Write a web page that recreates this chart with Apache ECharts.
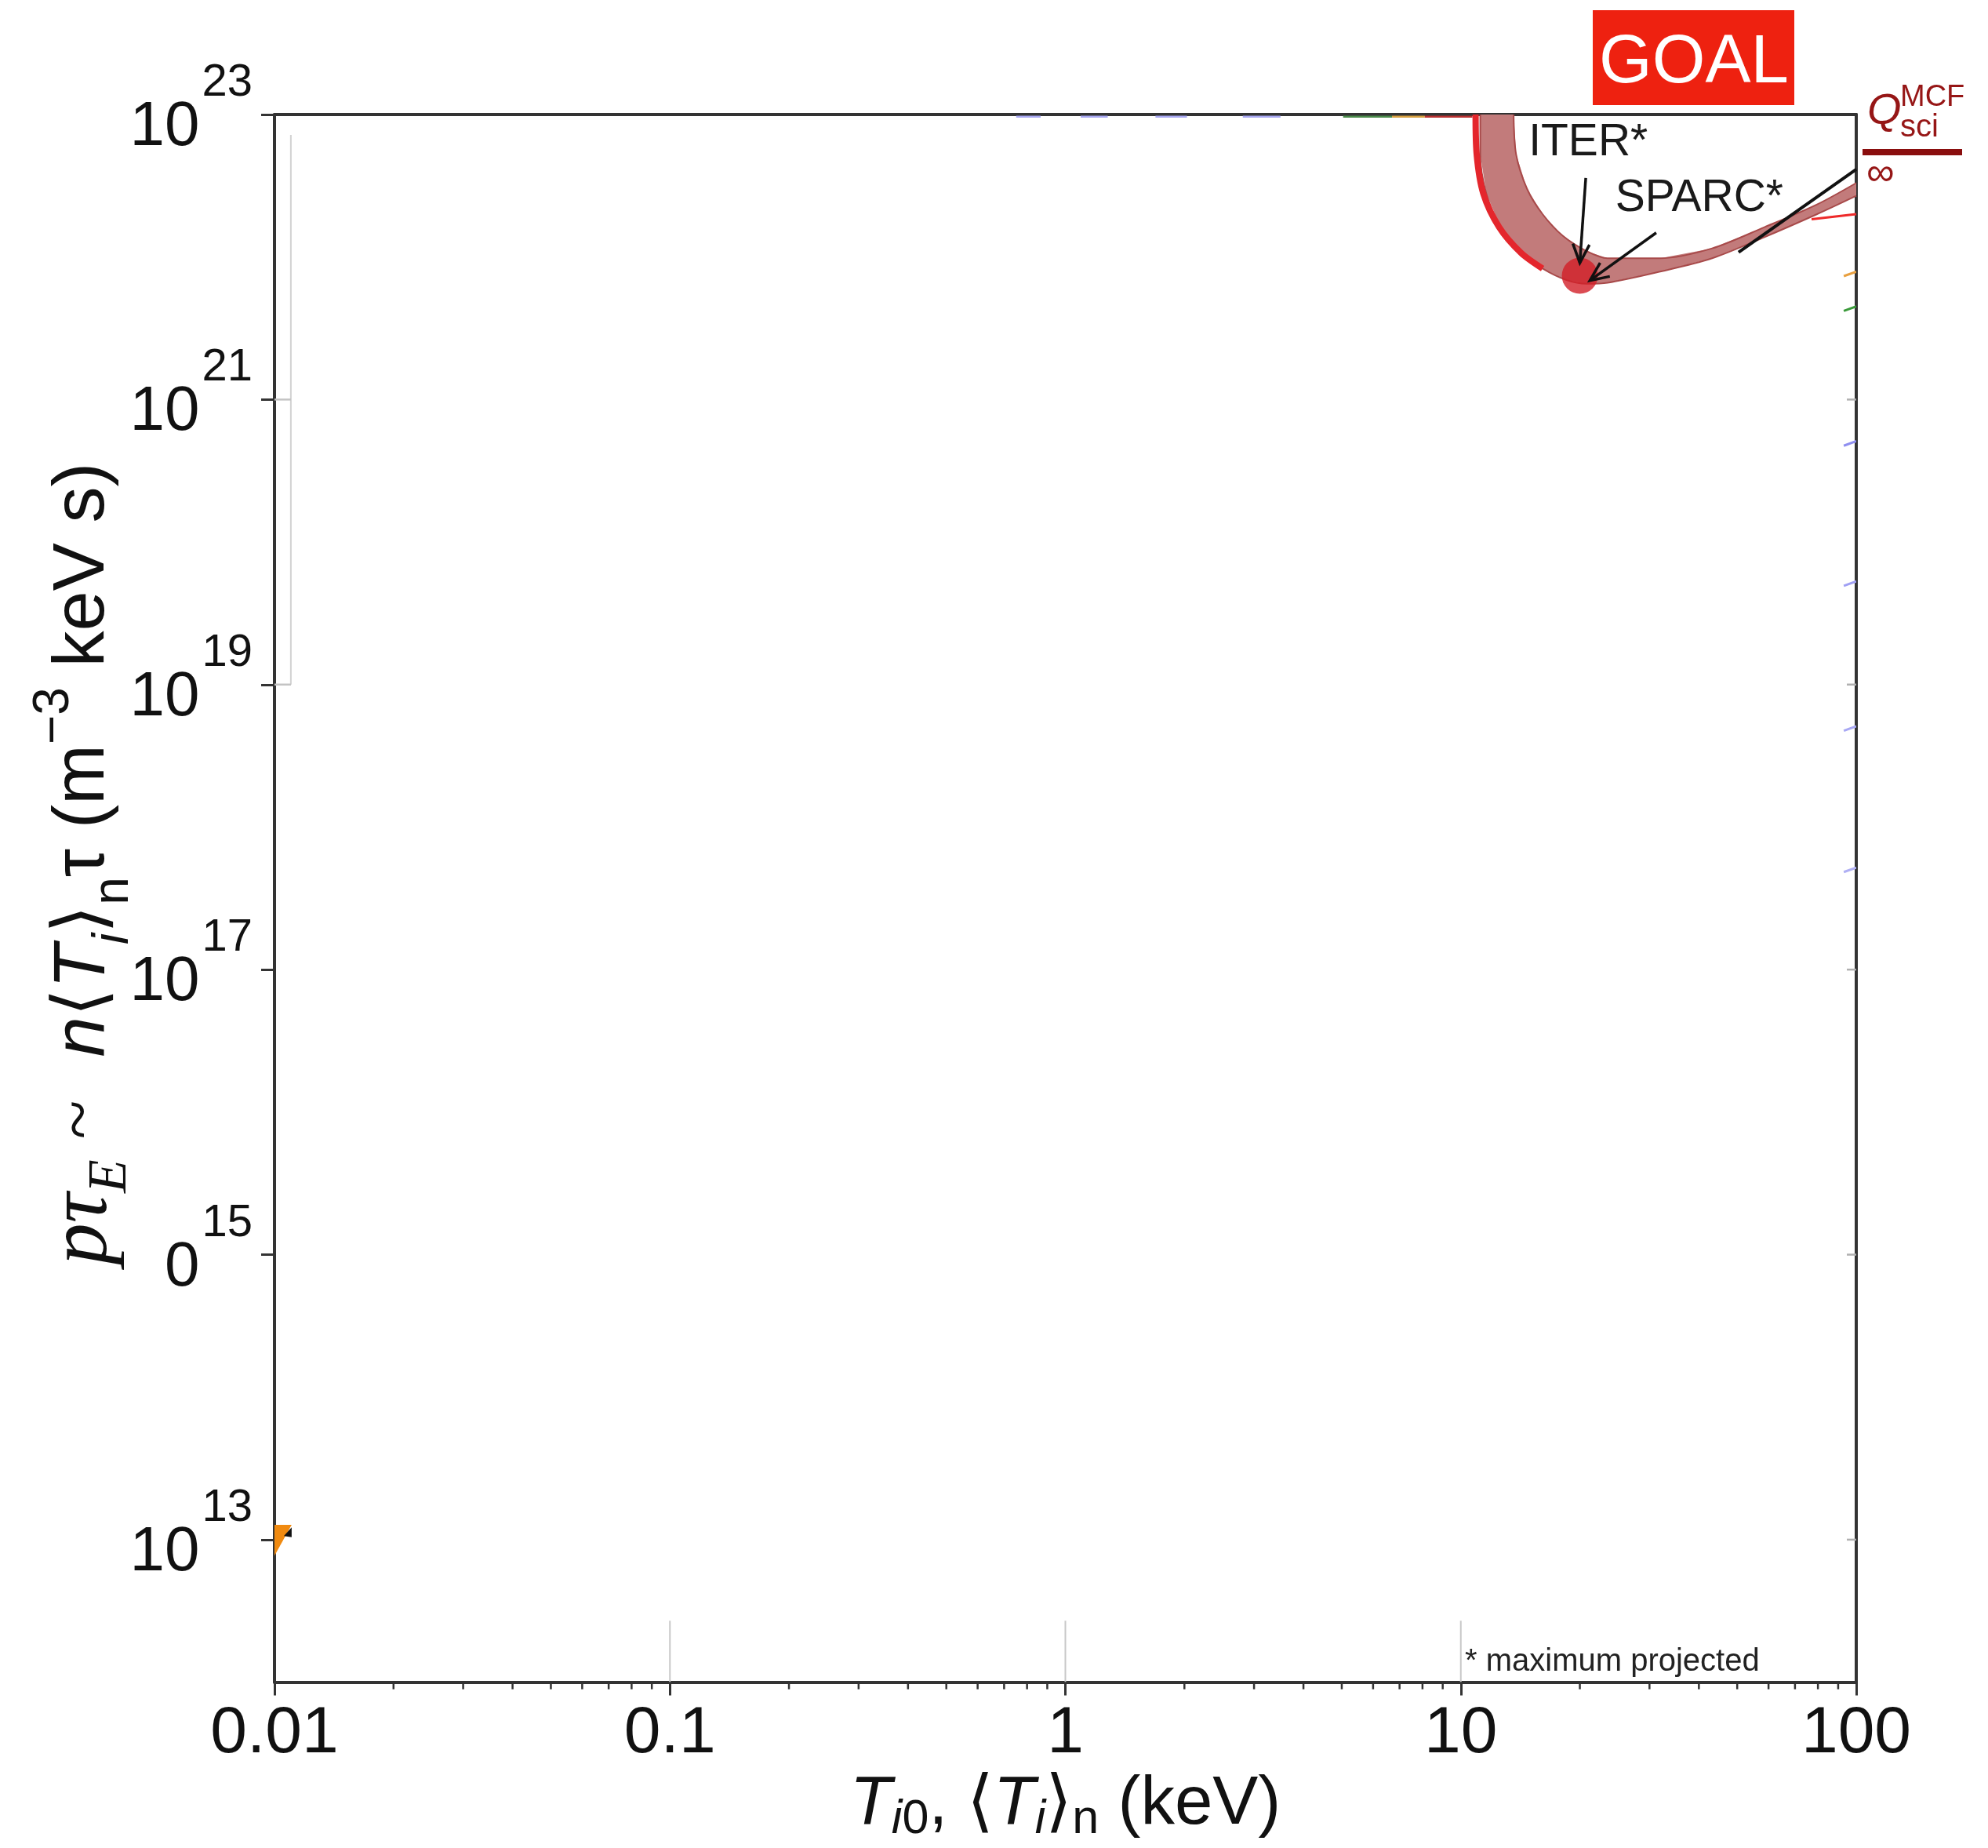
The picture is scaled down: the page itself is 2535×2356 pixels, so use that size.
<!DOCTYPE html>
<html><head><meta charset="utf-8">
<script src="https://cdn.jsdelivr.net/npm/echarts@6/dist/echarts.min.js"></script>
<style>html,body{margin:0;padding:0;background:#fff}#c{width:2535px;height:2356px}</style>
</head><body><div id="c"></div>
<script>
// ---------------- data ----------------
const xTickValues = [0.01, 0.1, 1, 10, 100];
const xTickLabels = ['0.01', '0.1', '1', '10', '100'];
const yTickValues = [1e13, 1e15, 1e17, 1e19, 1e21, 1e23];
const yTickBases  = ['10', '0', '10', '10', '10', '10'];
const yTickExps   = ['13', '15', '17', '19', '21', '23'];
const xMinorMultipliers = [2, 3, 4, 5, 6, 7, 8, 9];
const xMinorDecades = [0.01, 0.1, 1, 10];
const rightInnerTickValues = [1e13, 1e15, 1e17, 1e19, 1e21];
const leftInnerTickValues = [1e19, 1e21];

// Q_sci^MCF = infinity band (T in keV, n<T>tau in m^-3 keV s)
const bandInnerT = [13.6, 13.8, 14.7, 16.1, 18.1, 20.8, 23.5, 31.9, 43.2, 58.6, 79.6, 100];
const bandInnerV = [1.0e23, 5.25e22, 3.02e22, 2.0e22, 1.41e22, 1.10e22, 9.8e21, 9.8e21, 1.15e22, 1.62e22, 2.34e22, 3.31e22];
const bandOuterT = [11.2, 11.2, 11.6, 12.6, 14.2, 16.1, 18.5, 20.8, 23.5, 31.9, 43.2, 58.6, 79.6, 100];
const bandOuterV = [1.0e23, 5.25e22, 2.79e22, 1.62e22, 1.07e22, 8.3e21, 6.9e21, 6.5e21, 6.6e21, 7.9e21, 9.8e21, 1.38e22, 2.0e22, 2.69e22];
const redEdgeT = [10.9, 10.97, 11.4, 12.5, 14.2, 16.1];
const redEdgeV = [1.0e23, 5.25e22, 2.79e22, 1.62e22, 1.07e22, 8.3e21];
const redTailT = [77.1, 100];
const redTailV = [1.84e22, 2.0e22];
const blackLineT = [50.4, 100];
const blackLineV = [1.08e22, 4.12e22];

// ITER / SPARC (maximum projected)
const projectPoint = [20, 7.4e21];
const arrowSegments = [ // [T0, V0, T1, V1]
  [20.7, 3.59e22, 20.0, 9.1e21],
  [31.2, 1.48e22, 21.2, 6.84e21]
];
const annotationLabels = [[21.0, 6.3e22, 'ITER*'], [40.1, 2.57e22, 'SPARC*']];

// faint remnants
const leftGrayLine = [[0.011, 7.2e22], [0.011, 1e19]];
const partialGridT = [0.1, 1, 10];
const partialGridV = [1e12, 2.7e12];
const topRemnants = [ // [T0, T1, colour]
  [0.751, 0.866, '#a8a8f2'], [1.093, 1.28, '#a8a8f2'], [1.69, 2.03, '#a8a8f2'], [2.81, 3.50, '#a8a8f2'],
  [5.04, 6.70, '#4a8a4a'], [6.70, 8.11, '#d7a040'], [8.11, 10.7, '#b83030']
];
const topRemnantV = 9.65e22;
const rightRemnants = [[7.9e21, '#e8a040'], [4.5e21, '#3a9a3a'], [5.1e20, '#8f8ff0'], [5.3e19, '#a0a0f4'], [5.1e18, '#a8a8f4'], [5.2e17, '#b0b0f4']];
const orangeMarker = [[0.01, 1.27e13], [0.01105, 1.27e13], [0.01, 7.7e12]];
const blackMarker = [[0.01105, 1.22e13], [0.01105, 1.04e13], [0.01056, 1.06e13]];

// ---------------- chart ----------------
const chart = echarts.init(document.getElementById('c'), null, {renderer: 'canvas'});
const SANS = 'Liberation Sans, Arial, Helvetica, sans-serif';
const SERIF = 'Liberation Serif, Times New Roman, serif';
const AX = '#333333';
const Y_MIN = 1e12, Y_MAX = 1.0000001e23;

function idxOf(arr, v) {
  for (let i = 0; i < arr.length; i++) if (Math.abs(Math.log10(arr[i]) - Math.log10(v)) < 1e-5) return i;
  return -1;
}
function segSeries(segs, z, clip) {
  return {
    type: 'custom', coordinateSystem: 'cartesian2d', clip: clip, silent: true, z: z,
    data: segs.map(s => [s[0], s[1], s[2], s[3]]),
    encode: {x: [0, 2], y: [1, 3]},
    renderItem: (params, api) => {
      const s = segs[params.dataIndex];
      const a = api.coord([s[0], s[1]]);
      const b = api.coord([s[2], s[3]]);
      return {type: 'line', shape: {x1: a[0], y1: a[1], x2: b[0], y2: b[1]},
              style: {stroke: s[4], lineWidth: s[5], lineCap: 'butt'}};
    }
  };
}
function polySeries(pts, fill, z) {
  return {
    type: 'custom', coordinateSystem: 'cartesian2d', clip: true, silent: true, z: z,
    data: [pts[0]],
    renderItem: (params, api) => ({
      type: 'polygon', shape: {points: pts.map(p => api.coord(p))}, style: {fill: fill}
    })
  };
}

const bandPts = [];
bandInnerT.forEach((t, i) => bandPts.push([t, bandInnerV[i]]));
for (let i = bandOuterT.length - 1; i >= 0; i--) bandPts.push([bandOuterT[i], bandOuterV[i]]);

const minorTickVals = [];
xMinorDecades.forEach(d => xMinorMultipliers.forEach(m => minorTickVals.push(d * m)));

const option = {
  animation: false,
  backgroundColor: '#ffffff',
  grid: {left: 350, right: 168, top: 146, bottom: 206, containLabel: false},
  xAxis: [{
    type: 'log', logBase: 10, min: 0.01, max: 100, position: 'bottom',
    axisLine: {show: true, lineStyle: {color: AX, width: 4}},
    axisTick: {show: true, inside: false, length: 17, lineStyle: {color: AX, width: 3}, customValues: xTickValues},
    axisLabel: {show: true, margin: 24, fontSize: 84, fontFamily: SANS, color: '#111', customValues: xTickValues,
      formatter: v => { const i = idxOf(xTickValues, v); return i >= 0 ? xTickLabels[i] : ''; }},
    splitLine: {show: false}, minorTick: {show: false},
    name: '{it|T}{si|i}{s|0}{n|, ⟨}{it|T}{si|i}{n|⟩}{s|n}{n| (keV)}',
    nameLocation: 'middle', nameGap: 106,
    nameTextStyle: {
      rich: {
        n: {fontSize: 87, fontFamily: SANS, color: '#111', lineHeight: 100},
        it: {fontSize: 87, fontFamily: SANS, fontStyle: 'italic', color: '#111', lineHeight: 100},
        s: {fontSize: 61, fontFamily: SANS, color: '#111', lineHeight: 60, verticalAlign: 'bottom'},
        si: {fontSize: 61, fontFamily: SANS, fontStyle: 'italic', color: '#111', lineHeight: 60, verticalAlign: 'bottom'}
      }
    }
  }, {
    type: 'log', logBase: 10, min: 0.01, max: 100, position: 'top',
    axisLine: {show: true, lineStyle: {color: AX, width: 4}},
    axisTick: {show: false}, axisLabel: {show: false}, splitLine: {show: false}
  }],
  yAxis: [{
    type: 'log', logBase: 10, min: Y_MIN, max: Y_MAX, position: 'left',
    axisLine: {show: true, lineStyle: {color: AX, width: 4}},
    axisTick: {show: true, inside: false, length: 17, lineStyle: {color: AX, width: 3}, customValues: yTickValues},
    axisLabel: {show: true, margin: 28, customValues: yTickValues, padding: [0, 0, 12, 0],
      formatter: v => { const i = idxOf(yTickValues, v); return i >= 0 ? '{b|' + yTickBases[i] + '}{s|' + yTickExps[i] + '}' : ''; },
      rich: {
        b: {fontSize: 80, fontFamily: SANS, color: '#111', lineHeight: 126, verticalAlign: 'bottom', padding: [0, 3, 0, 0]},
        s: {fontSize: 58, fontFamily: SANS, color: '#111', lineHeight: 58, verticalAlign: 'top'}
      }},
    splitLine: {show: false},
    name: '{pm|pτ}{pe|E}{sp|}{tl|~}{gap|}{it|n}{n|⟨}{it|T}{si|i}{n|⟩}{s|n}{n|τ (m}{sup|−3}{n| keV s)}',
    nameLocation: 'middle', nameRotate: 90, nameGap: 173, nameMoveOverlap: false,
    nameTextStyle: {
      padding: [0, 0, 0, 88],
      rich: {
        pm: {fontSize: 107, fontFamily: SERIF, fontStyle: 'italic', color: '#111', lineHeight: 140},
        pe: {fontSize: 70, fontFamily: SERIF, fontStyle: 'italic', color: '#111', lineHeight: 70, verticalAlign: 'bottom'},
        sp: {width: 26},
        tl: {fontSize: 92, fontFamily: SERIF, color: '#111', lineHeight: 100, verticalAlign: 'top', padding: [22, 0, 0, 0]},
        gap: {width: 55},
        n: {fontSize: 92, fontFamily: SANS, color: '#111', lineHeight: 140},
        it: {fontSize: 92, fontFamily: SANS, fontStyle: 'italic', color: '#111', lineHeight: 140},
        s: {fontSize: 64, fontFamily: SANS, color: '#111', lineHeight: 78, verticalAlign: 'bottom'},
        si: {fontSize: 64, fontFamily: SANS, fontStyle: 'italic', color: '#111', lineHeight: 78, verticalAlign: 'bottom'},
        sup: {fontSize: 64, fontFamily: SANS, color: '#111', lineHeight: 78, verticalAlign: 'top'}
      }
    }
  }, {
    type: 'log', logBase: 10, min: Y_MIN, max: Y_MAX, position: 'right',
    axisLine: {show: true, lineStyle: {color: AX, width: 4}},
    axisTick: {show: false}, axisLabel: {show: false}, splitLine: {show: false}
  }],
  series: [
    // faint remnants
    segSeries(partialGridT.map(t => [t, partialGridV[0], t, partialGridV[1], '#c8c8c8', 2]), 1, true),
    segSeries([[leftGrayLine[0][0], leftGrayLine[0][1], leftGrayLine[1][0], leftGrayLine[1][1], '#d2d2d2', 2]], 1, true),
    segSeries(topRemnants.map(r => [r[0], topRemnantV, r[1], topRemnantV, r[2], 2.5]), 1, true),
    segSeries(rightRemnants.map(r => [93, r[0] * 0.93, 100, r[0], r[1], 3]), 1, true),
    polySeries(orangeMarker, '#f08a10', 2),
    polySeries(blackMarker, '#111111', 3),
    // band
    polySeries(bandPts, '#c27b7b', 4),
    {type: 'line', data: bandInnerT.map((t, i) => [t, bandInnerV[i]]), smooth: 0.3, symbol: 'none', z: 5,
      lineStyle: {color: '#a84a4a', width: 2}, clip: true, silent: true},
    {type: 'line', data: bandOuterT.map((t, i) => [t, bandOuterV[i]]), smooth: 0.3, symbol: 'none', z: 5,
      lineStyle: {color: '#a84a4a', width: 2}, clip: true, silent: true},
    {type: 'line', data: redEdgeT.map((t, i) => [t, redEdgeV[i]]), smooth: 0.3, symbol: 'none', z: 6,
      lineStyle: {color: '#e4262c', width: 8}, clip: true, silent: true},
    {type: 'line', data: redTailT.map((t, i) => [t, redTailV[i]]), symbol: 'none', z: 6,
      lineStyle: {color: '#ee2a2a', width: 3}, clip: true, silent: true},
    {type: 'line', data: blackLineT.map((t, i) => [t, blackLineV[i]]), symbol: 'none', z: 7,
      lineStyle: {color: '#111111', width: 4}, clip: true, silent: true},
    // ITER / SPARC point
    {type: 'scatter', data: [projectPoint], symbol: 'circle', symbolSize: 46, z: 8,
      itemStyle: {color: '#d21f28'}, silent: true},
    // arrows
    {
      type: 'custom', coordinateSystem: 'cartesian2d', clip: false, silent: true, z: 9,
      data: arrowSegments, encode: {x: [0, 2], y: [1, 3]},
      renderItem: (params, api) => {
        const s = arrowSegments[params.dataIndex];
        const a = api.coord([s[0], s[1]]);
        const b = api.coord([s[2], s[3]]);
        const ang = Math.atan2(b[1] - a[1], b[0] - a[0]);
        const L = 26, h = 0.42;
        const p1 = [b[0] - L * Math.cos(ang - h), b[1] - L * Math.sin(ang - h)];
        const p2 = [b[0] - L * Math.cos(ang + h), b[1] - L * Math.sin(ang + h)];
        return {type: 'group', children: [
          {type: 'line', shape: {x1: a[0], y1: a[1], x2: b[0], y2: b[1]}, style: {stroke: '#111', lineWidth: 3.5}},
          {type: 'polyline', shape: {points: [p1, b, p2]}, style: {stroke: '#111', lineWidth: 3.5, fill: null}}
        ]};
      }
    },
    // annotation labels
    {
      type: 'custom', coordinateSystem: 'cartesian2d', clip: false, silent: true, z: 10,
      data: annotationLabels.map(a => [a[0], a[1]]),
      renderItem: (params, api) => {
        const a = annotationLabels[params.dataIndex];
        const p = api.coord([a[0], a[1]]);
        return {type: 'text', x: p[0], y: p[1],
          style: {text: a[2], fill: '#1a1a1a', font: '57px ' + SANS, align: 'center', verticalAlign: 'middle'}};
      }
    },
    // x minor ticks (outside, below axis)
    {
      type: 'custom', coordinateSystem: 'cartesian2d', clip: false, silent: true, z: 11,
      data: minorTickVals.map(v => [v, Y_MIN]),
      renderItem: (params, api) => {
        const p = api.coord([minorTickVals[params.dataIndex], Y_MIN]);
        return {type: 'line', shape: {x1: p[0], y1: p[1], x2: p[0], y2: p[1] + 9}, style: {stroke: AX, lineWidth: 2.5}};
      }
    },
    // inner gray ticks
    {
      type: 'custom', coordinateSystem: 'cartesian2d', clip: false, silent: true, z: 11,
      data: rightInnerTickValues.map(v => [100, v]),
      renderItem: (params, api) => {
        const p = api.coord([100, rightInnerTickValues[params.dataIndex]]);
        return {type: 'line', shape: {x1: p[0] - 12, y1: p[1], x2: p[0], y2: p[1]}, style: {stroke: '#b0b0b0', lineWidth: 2.5}};
      }
    },
    {
      type: 'custom', coordinateSystem: 'cartesian2d', clip: false, silent: true, z: 11,
      data: leftInnerTickValues.map(v => [0.01, v]),
      renderItem: (params, api) => {
        const p = api.coord([0.01, leftInnerTickValues[params.dataIndex]]);
        return {type: 'line', shape: {x1: p[0], y1: p[1], x2: p[0] + 21, y2: p[1]}, style: {stroke: '#c4c4c4', lineWidth: 2.5}};
      }
    }
  ],
  graphic: [
    {type: 'rect', left: 2031, top: 13, shape: {width: 257, height: 121}, style: {fill: '#ee2110'}, z: 20},
    {type: 'text', x: 2160, y: 81, z: 21, style: {text: 'GOAL', fill: '#ffffff', font: '87px ' + SANS, align: 'center', verticalAlign: 'middle'}},
    {type: 'text', x: 2381, y: 170, z: 21, style: {text: 'Q', fill: '#961616', font: 'italic 56px ' + SANS, align: 'left', verticalAlign: 'bottom'}},
    {type: 'text', x: 2423, y: 144, z: 21, style: {text: 'MCF', fill: '#961616', font: '38px ' + SANS, align: 'left', verticalAlign: 'bottom'}},
    {type: 'text', x: 2423, y: 183, z: 21, style: {text: 'sci', fill: '#961616', font: '40px ' + SANS, align: 'left', verticalAlign: 'bottom'}},
    {type: 'rect', left: 2375, top: 190, shape: {width: 127, height: 8}, style: {fill: '#8a0e0e'}, z: 21},
    {type: 'text', x: 2380, y: 222, z: 21, style: {text: '∞', fill: '#961616', font: '50px ' + SANS, align: 'left', verticalAlign: 'middle'}},
    {type: 'text', x: 1868, y: 2139, z: 21, style: {text: '* maximum projected', fill: '#222', font: '40px ' + SANS, align: 'left', verticalAlign: 'bottom'}}
  ]
};
chart.setOption(option);
</script>
</body></html>
